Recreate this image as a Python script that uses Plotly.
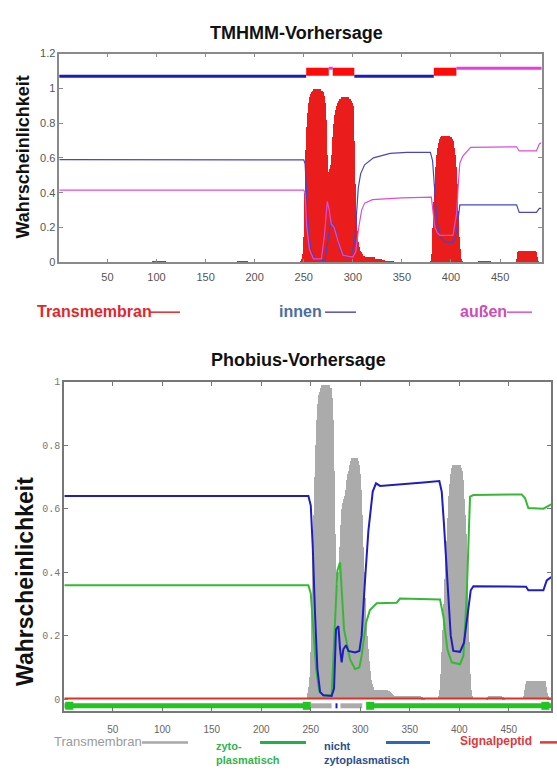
import plotly.graph_objects as go

W, H = 557, 773

# ---------------- TMHMM prediction ----------------
# transmembrane probability per residue, stored in blocks (first residue + values)
tmhmm_tm_a_start = 96
tmhmm_tm_a = [0.004, 0.006, 0.008, 0.01, 0.01, 0.012, 0.012, 0.01, 0.01, 0.008,
              0.008, 0.006, 0.006, 0.005, 0.004]
tmhmm_tm_b_start = 182
tmhmm_tm_b = [0.004, 0.006, 0.008, 0.008, 0.01, 0.01, 0.01, 0.01, 0.008, 0.008,
              0.006, 0.005, 0.004]
tmhmm_tm_c_start = 248
tmhmm_tm_c = [0.01, 0.02, 0.05, 0.15, 0.4, 0.65, 0.78, 0.86, 0.92, 0.95,
              0.97, 0.98, 0.99, 1.0, 1.0, 1.0, 1.0, 1.0, 1.0, 1.0,
              0.99, 0.99, 0.98, 0.96, 0.92, 0.82, 0.62, 0.52, 0.52, 0.54,
              0.56, 0.62, 0.72, 0.8, 0.85, 0.88, 0.9, 0.92, 0.93, 0.94,
              0.94, 0.95, 0.95, 0.95, 0.95, 0.95, 0.95, 0.95, 0.94, 0.94,
              0.93, 0.92, 0.9, 0.86, 0.7, 0.45, 0.28, 0.18, 0.12, 0.09,
              0.07, 0.06, 0.05, 0.04, 0.04, 0.03, 0.03, 0.03, 0.03, 0.03,
              0.03, 0.03, 0.03, 0.03, 0.03, 0.02, 0.02, 0.02, 0.02, 0.02,
              0.02, 0.02, 0.015, 0.015, 0.015, 0.01, 0.01, 0.01, 0.008, 0.008,
              0.006, 0.006, 0.005, 0.005]
tmhmm_tm_d_start = 380
tmhmm_tm_d = [0.01, 0.05, 0.2, 0.35, 0.45, 0.55, 0.62, 0.66, 0.69, 0.71,
              0.72, 0.73, 0.73, 0.73, 0.73, 0.73, 0.73, 0.73, 0.73, 0.72,
              0.72, 0.71, 0.7, 0.66, 0.62, 0.55, 0.45, 0.3, 0.15, 0.08,
              0.04, 0.02, 0.01]
tmhmm_tm_e_start = 428
tmhmm_tm_e = [0.004, 0.006, 0.008, 0.008, 0.01, 0.01, 0.01, 0.01, 0.01, 0.008,
              0.008, 0.006, 0.006, 0.004]
tmhmm_tm_f_start = 468
tmhmm_tm_f = [0.02, 0.06, 0.065, 0.065, 0.065, 0.065, 0.065, 0.065, 0.065, 0.065,
              0.065, 0.065, 0.065, 0.065, 0.065, 0.065, 0.065, 0.065, 0.065, 0.06,
              0.03, 0.01]

# "innen" (inside) probability curve
tmhmm_in_x = [1, 250, 251.4, 253, 254.8, 258, 261.5, 271.6, 275, 277.5, 281.8, 285,
              288.5, 293.6, 298.7, 302, 305.6, 308, 312, 321, 338, 355, 379, 381.2,
              383.6, 386, 388.7, 393.8, 402.3, 405.7, 409, 411.8, 466.8, 469.5, 487,
              490, 492]
tmhmm_in_y = [0.59, 0.589, 0.566, 0.34, 0.17, 0.06, 0.02, 0.01, 0.13, 0.23, 0.21, 0.11,
              0.05, 0.03, 0.04, 0.13, 0.43, 0.51, 0.56, 0.6, 0.626, 0.632, 0.632, 0.585,
              0.4, 0.23, 0.15, 0.117, 0.113, 0.17, 0.33, 0.33, 0.33, 0.287, 0.287,
              0.31, 0.31]

# "außen" (outside) probability curve
tmhmm_out_x = [1, 250, 251.4, 253, 255.8, 259.8, 268, 271, 274, 276, 278, 281, 285,
               290, 300, 303, 306, 309, 312, 320, 350, 380, 381.5, 383.6, 386, 388.7,
               402, 405.7, 407.5, 409, 412, 420, 466.8, 469.5, 487, 490, 492]
tmhmm_out_y = [0.415, 0.415, 0.396, 0.21, 0.075, 0.02, 0.02, 0.15, 0.35, 0.3, 0.22, 0.2,
               0.12, 0.04, 0.03, 0.06, 0.2, 0.3, 0.34, 0.36, 0.37, 0.374, 0.3, 0.2,
               0.17, 0.155, 0.155, 0.28, 0.45, 0.57, 0.61, 0.66, 0.664, 0.64, 0.64,
               0.68, 0.687]

# predicted topology (residue ranges)
tmhmm_seg_start = [1, 253, 276, 280, 302, 383, 406]
tmhmm_seg_end = [252, 275, 279, 301, 382, 405, 492]
tmhmm_seg_kind = ["inside", "TMhelix", "outside", "TMhelix", "inside", "TMhelix", "outside"]

# ---------------- Phobius prediction ----------------
phob_tm_a_start = 246
phob_tm_a = [0.0, 0.01, 0.02, 0.04, 0.07, 0.15, 0.3, 0.45, 0.58, 0.7,
             0.8, 0.88, 0.93, 0.96, 0.97, 0.98, 0.99, 0.99, 0.99, 0.99,
             0.99, 0.99, 0.99, 0.99, 0.98, 0.98, 0.95, 0.88, 0.72, 0.52,
             0.4, 0.36, 0.36, 0.4, 0.48, 0.55, 0.6, 0.62, 0.63, 0.64,
             0.66, 0.69, 0.71, 0.72, 0.74, 0.75, 0.76, 0.76, 0.76, 0.76,
             0.76, 0.76, 0.75, 0.74, 0.71, 0.66, 0.58, 0.48, 0.4, 0.32,
             0.25, 0.2, 0.16, 0.12, 0.09, 0.06, 0.05, 0.04, 0.03, 0.028,
             0.028, 0.028, 0.028, 0.028, 0.028, 0.028, 0.028, 0.028, 0.028, 0.028,
             0.028, 0.028, 0.025, 0.025, 0.022, 0.02, 0.018, 0.015, 0.012, 0.012,
             0.01, 0.01, 0.01, 0.01, 0.01, 0.01, 0.01, 0.01, 0.01, 0.01,
             0.01, 0.01, 0.01, 0.01, 0.01, 0.01, 0.01, 0.01, 0.01, 0.01,
             0.01, 0.01, 0.01, 0.01, 0.01, 0.01, 0.008, 0.006, 0.005, 0.004]
phob_tm_b_start = 380
phob_tm_b = [0.01, 0.03, 0.08, 0.15, 0.22, 0.3, 0.38, 0.45, 0.5, 0.57,
             0.64, 0.68, 0.71, 0.73, 0.74, 0.74, 0.74, 0.74, 0.74, 0.74,
             0.74, 0.74, 0.73, 0.72, 0.69, 0.63, 0.58, 0.52, 0.42, 0.3,
             0.18, 0.08, 0.03, 0.01]
phob_tm_c_start = 428
phob_tm_c = [0.004, 0.008, 0.01, 0.01, 0.01, 0.01, 0.012, 0.012, 0.012, 0.012,
             0.012, 0.01, 0.01, 0.01, 0.01, 0.01, 0.008, 0.006, 0.004]
phob_tm_d_start = 466
phob_tm_d = [0.01, 0.03, 0.05, 0.059, 0.059, 0.059, 0.059, 0.059, 0.059, 0.059,
             0.059, 0.059, 0.059, 0.059, 0.059, 0.059, 0.059, 0.059, 0.059, 0.059,
             0.059, 0.059, 0.04, 0.02, 0.01]

# non-cytoplasmic probability
phob_nc_x = [1, 247.6, 250, 252, 254.3, 256.7, 259.4, 262.7, 271.1, 273.5, 275.5,
             277.9, 279.6, 281.2, 282.9, 285.6, 288, 294.7, 299.1, 301.4, 304.8, 308.2,
             312.6, 315.9, 320, 340.2, 363.7, 379.9, 382.3, 384.6, 388, 391.4, 394,
             400.8, 404.8, 408.2, 411.6, 414.3, 448, 467.5, 469.8, 485, 488.4, 493]
phob_nc_y = [0.64, 0.64, 0.61, 0.48, 0.27, 0.095, 0.023, 0.012, 0.01, 0.033, 0.22,
             0.23, 0.157, 0.116, 0.157, 0.17, 0.152, 0.147, 0.152, 0.2, 0.374, 0.53,
             0.654, 0.68, 0.672, 0.676, 0.683, 0.687, 0.654, 0.55, 0.364, 0.2, 0.152,
             0.149, 0.178, 0.26, 0.343, 0.356, 0.354, 0.354, 0.343, 0.343, 0.374, 0.385]

# cytoplasmic probability
phob_cy_x = [1, 247.6, 250, 252.7, 255.4, 258.7, 262.7, 271.1, 274.5, 276.9, 279.6,
             281.2, 283.6, 286.3, 289.6, 294.7, 299.1, 301.4, 305.8, 309.8, 316.6,
             336.8, 340.2, 380.6, 384, 388, 392.4, 400.8, 404.2, 407.5, 410.9, 414.3,
             448, 463.1, 466.5, 469.8, 485, 488.4, 493]
phob_cy_y = [0.359, 0.359, 0.333, 0.22, 0.095, 0.023, 0.012, 0.012, 0.22, 0.405, 0.431,
             0.343, 0.22, 0.178, 0.126, 0.095, 0.1, 0.137, 0.24, 0.281, 0.302,
             0.304, 0.317, 0.314, 0.26, 0.157, 0.116, 0.11, 0.137, 0.323, 0.638, 0.643,
             0.643, 0.645, 0.633, 0.602, 0.6, 0.607, 0.614]

# signal peptide probability
phob_sp_x = [1, 493]
phob_sp_y = [0.002, 0.002]

# predicted topology
phob_seg_start = [1, 250, 275, 280, 308]
phob_seg_end = [247, 271, 277, 302, 493]
phob_seg_kind = ["cyto", "TM", "noncyto", "TM", "cyto"]
phob_cyto_marks = [6, 246, 310, 487]

x_ticks = [50, 100, 150, 200, 250, 300, 350, 400, 450]
top_y_ticks = [0, 0.2, 0.4, 0.6, 0.8, 1.0, 1.2]
top_y_text = ["0", "0.2", "0.4", "0.6", "0.8", "1", "1.2"]
bot_y_ticks = [0, 0.2, 0.4, 0.6, 0.8, 1.0]
bot_y_text = ["0", "0.2", "0.4", "0.6", "0.8", "1"]


def px(x):
    return x / W


def py(y):
    return 1 - y / H


def blocks(*pairs):
    xs, ys = [], []
    for start, vals in pairs:
        xs += list(range(start, start + len(vals)))
        ys += vals
    return xs, ys


fig = go.Figure()

# ---- TMHMM panel ----
tx, ty = blocks((tmhmm_tm_a_start, tmhmm_tm_a), (tmhmm_tm_b_start, tmhmm_tm_b),
                (tmhmm_tm_c_start, tmhmm_tm_c), (tmhmm_tm_d_start, tmhmm_tm_d),
                (tmhmm_tm_e_start, tmhmm_tm_e), (tmhmm_tm_f_start, tmhmm_tm_f))
fig.add_trace(go.Bar(x=tx, y=ty, width=1, marker=dict(color="#ea1c1c", line_width=0),
                     xaxis="x", yaxis="y", showlegend=False))
fig.add_trace(go.Scatter(x=tmhmm_in_x, y=tmhmm_in_y, mode="lines",
                         line=dict(color="#4646c4", width=1.2), xaxis="x", yaxis="y",
                         showlegend=False))
fig.add_trace(go.Scatter(x=tmhmm_out_x, y=tmhmm_out_y, mode="lines",
                         line=dict(color="#d94fd9", width=1.2), xaxis="x", yaxis="y",
                         showlegend=False))

tmhmm_style = {"inside": (1.07, "#1c1cb4", 3), "TMhelix": (1.095, "#ff0a0a", 8),
               "outside": (1.115, "#e23ee2", 3)}
for s, e, k in zip(tmhmm_seg_start, tmhmm_seg_end, tmhmm_seg_kind):
    lvl, col, wd = tmhmm_style[k]
    fig.add_trace(go.Scatter(x=[s - 0.5, e + 0.5], y=[lvl, lvl], mode="lines",
                             line=dict(color=col, width=wd), xaxis="x", yaxis="y",
                             showlegend=False))

# ---- Phobius panel ----
bx, by = blocks((phob_tm_a_start, phob_tm_a), (phob_tm_b_start, phob_tm_b),
                (phob_tm_c_start, phob_tm_c), (phob_tm_d_start, phob_tm_d))
fig.add_trace(go.Bar(x=bx, y=by, width=1, marker=dict(color="#ababab", line_width=0),
                     xaxis="x2", yaxis="y2", showlegend=False))
fig.add_trace(go.Scatter(x=phob_sp_x, y=phob_sp_y, mode="lines",
                         line=dict(color="#e0302c", width=2), xaxis="x2", yaxis="y2",
                         showlegend=False))
fig.add_trace(go.Scatter(x=phob_cy_x, y=phob_cy_y, mode="lines",
                         line=dict(color="#35b935", width=2), xaxis="x2", yaxis="y2",
                         showlegend=False))
fig.add_trace(go.Scatter(x=phob_nc_x, y=phob_nc_y, mode="lines",
                         line=dict(color="#1e1ec0", width=2), xaxis="x2", yaxis="y2",
                         showlegend=False))

phob_style = {"cyto": "#22c422", "TM": "#aaaaaa", "noncyto": "#1a1ad0"}
phob_level = -0.021
for s, e, k in zip(phob_seg_start, phob_seg_end, phob_seg_kind):
    fig.add_trace(go.Scatter(x=[s, e], y=[phob_level, phob_level], mode="lines",
                             line=dict(color=phob_style[k], width=5), xaxis="x2",
                             yaxis="y2", showlegend=False))
fig.add_trace(go.Scatter(x=phob_cyto_marks, y=[phob_level] * len(phob_cyto_marks),
                         mode="markers",
                         marker=dict(symbol="square", size=8, color="#22c422"),
                         xaxis="x2", yaxis="y2", showlegend=False))

axis_common = dict(showgrid=False, zeroline=False, ticks="inside", ticklen=4,
                   mirror="ticks", showline=True)

fig.update_layout(
    width=W, height=H, margin=dict(l=0, r=0, t=0, b=0),
    paper_bgcolor="white", plot_bgcolor="white", barmode="overlay", bargap=0,
    font=dict(family="Liberation Sans, Arial, sans-serif"),
    xaxis=dict(domain=[px(59.3), px(541.7)], range=[1, 492.4], anchor="y",
               tickvals=x_ticks, linecolor="#8a8a8a", tickcolor="#8a8a8a", linewidth=1.5,
               ticklabelstandoff=4,
               tickfont=dict(size=11, color="#555555"), **axis_common),
    yaxis=dict(domain=[py(260.3), py(48.3)], range=[0, 1.2], anchor="x",
               tickvals=top_y_ticks, ticktext=top_y_text, linecolor="#8a8a8a",
               tickcolor="#8a8a8a", linewidth=1.5,
               tickfont=dict(size=11, color="#555555"), **axis_common),
    xaxis2=dict(domain=[px(64.3), px(551)], range=[1, 492.7], anchor="y2",
                tickvals=x_ticks, linecolor="#777777", tickcolor="#777777", linewidth=2,
                ticklabelstandoff=8,
                tickfont=dict(size=10, color="#666666"), **axis_common),
    yaxis2=dict(domain=[py(716), py(381.7)], range=[-0.037, 1.0], anchor="x2",
                tickvals=bot_y_ticks, ticktext=bot_y_text, linecolor="#777777",
                tickcolor="#777777", linewidth=2,
                tickfont=dict(size=10, color="#777777",
                              family="Liberation Mono, DejaVu Sans Mono, monospace"),
                **axis_common),
)


def note(text, x, y, size, color, xanchor="center", angle=0, yanchor="middle"):
    fig.add_annotation(text=text, x=px(x), y=py(y), xref="paper", yref="paper",
                       showarrow=False, xanchor=xanchor, yanchor=yanchor,
                       align="left" if xanchor == "left" else "center",
                       textangle=angle, font=dict(size=size, color=color),
                       borderpad=0)


def stroke(x0, x1, y, color, width):
    fig.add_shape(type="line", xref="paper", yref="paper", x0=px(x0), x1=px(x1),
                  y0=py(y), y1=py(y), line=dict(color=color, width=width))


# titles and axis titles
note("<b>TMHMM-Vorhersage</b>", 296.5, 27, 18, "#111111")
note("<b>Phobius-Vorhersage</b>", 298, 360, 18, "#111111")
note("<b>Wahrscheinlichkeit</b>", 23, 154, 18, "#111111", angle=-90)
note("<b>Wahrscheinlichkeit</b>", 25, 585, 23, "#111111", angle=-90)

# TMHMM legend
note("<b>Transmembran</b>", 36, 310, 16, "#e3262a", xanchor="left")
stroke(150, 180, 311, "#e3262a", 1.5)
note("<b>innen</b>", 278, 310, 16, "#4b6e9e", xanchor="left")
stroke(325, 356, 311, "#5050c4", 1.5)
note("<b>außen</b>", 459, 310, 16, "#d04cb8", xanchor="left")
stroke(507, 532, 311, "#d94fd9", 1.5)

# Phobius legend (two-line entries end at the bottom edge)
leg_y = 747
note("Transmembran", 53, leg_y, 13, "#9a9a9a", xanchor="left")
stroke(142, 188, leg_y + 1, "#a8a8a8", 2.5)
note("<b>zyto-<br>plasmatisch</b>", 215, 773, 11, "#2fb54c", xanchor="left",
     yanchor="bottom")
stroke(260, 306, leg_y + 1, "#22b04a", 3)
note("<b>nicht<br>zytoplasmatisch</b>", 323, 773, 11, "#2b4f8e", xanchor="left",
     yanchor="bottom")
stroke(386, 430, leg_y + 1, "#2a6ab8", 3)
note("<b>Signalpeptid</b>", 459, leg_y, 12, "#e0383c", xanchor="left")
stroke(540, 557, leg_y + 1, "#e0383c", 2.5)

fig.write_html("out.html")
